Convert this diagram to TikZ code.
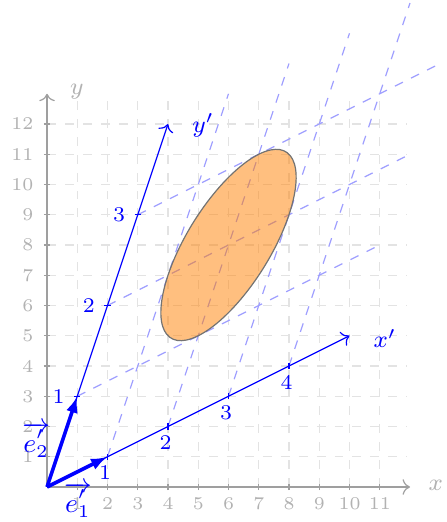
\documentclass[tikz,border=0pt]{standalone}
\usetikzlibrary{arrows.meta}
\begin{document}
\begin{tikzpicture}[x=0.355cm,y=0.355cm,
  gridline/.style={gray!22, dashed},
  axisline/.style={gray!75, ->},
  axistick/.style={gray!75},
  ticklabel/.style={text=gray!60, font=\fontsize{6}{7}\selectfont, inner sep=0pt},
  axislabel/.style={text=gray!60, font=\fontsize{8}{10}\selectfont},
  newgrid/.style={blue!38, dashed},
  newaxis/.style={blue, ->},
  newtick/.style={blue},
  newticklabel/.style={text=blue, font=\fontsize{7}{8}\selectfont, inner sep=0pt},
  newaxislabel/.style={text=blue, font=\fontsize{8.5}{10}\selectfont},
  basisvec/.style={blue, very thick, -{Latex[length=5.5pt,width=4pt]}},
  basislabel/.style={text=blue, font=\fontsize{9}{11}\selectfont, inner sep=0pt}]
\useasboundingbox (-1.554,-1.157) rectangle (13.19,16.1);
% original grid and axes
\draw[gridline, step=1] (0,0) grid (11.9,12.9);
\coordinate (O) at (0,0);
\coordinate (Xend) at (12,0);
\coordinate (Yend) at (0,13);
\draw[axisline] (O) -- (Xend);
\draw[axisline] (O) -- (Yend);
\foreach \i in {1,...,11} {
  \draw[axistick] (\i,-0.1) -- (\i,0.1);
  \node[ticklabel, anchor=north] (xt\i) at (\i,-0.33) {\i};
}
\foreach \j in {1,...,12} {
  \draw[axistick] (-0.1,\j) -- (0.1,\j);
  \node[ticklabel, anchor=east] (yt\j) at (-0.43,\j) {\j};
}
\node[axislabel] (xlab) at (12.85,0.05) {$x$};
\node[axislabel] (ylab) at (0.99,13.06) {$y$};
% new coordinate grid
\foreach \i in {1,...,4} \draw[newgrid] (2*\i,\i) -- ++(4,12);
\foreach \j in {1,2,3} \draw[newgrid] (\j,3*\j) -- ++(10,5);
% ellipse: unit circle around (2,2) in new coordinates
\filldraw[fill=orange, fill opacity=0.5, draw=black!55, cm={2,1,1,3,(0,0)}] (2,2) circle (1);
% new axes
\coordinate (Xp) at (10,5);
\coordinate (Yp) at (4,12);
\draw[newaxis] (O) -- (Xp);
\draw[newaxis] (O) -- (Yp);
\foreach \i in {1,...,4} {
  \draw[newtick] (2*\i,\i-0.1) -- (2*\i,\i+0.1);
  \node[newticklabel, anchor=north] (xpt\i) at (2*\i-0.08,\i-0.28) {\i};
}
\foreach \j in {1,2,3} {
  \draw[newtick] (\j-0.1,3*\j) -- (\j+0.1,3*\j);
  \node[newticklabel, anchor=east] (ypt\j) at (\j-0.4,3*\j) {\j};
}
\node[newaxislabel] (xplab) at (11.17,4.9) {$x'$};
\node[newaxislabel] (yplab) at (5.16,11.95) {$y'$};
% basis vectors
\coordinate (E1) at (2,1);
\coordinate (E2) at (1,3);
\draw[basisvec] (O) -- (E1);
\draw[basisvec] (O) -- (E2);
\node[basislabel] (e1lab) at (1.02,-0.43) {$\overrightarrow{e'_1}$};
\node[basislabel] (e2lab) at (-0.36,1.55) {$\overrightarrow{e'_2}$};
\end{tikzpicture}
\end{document}
